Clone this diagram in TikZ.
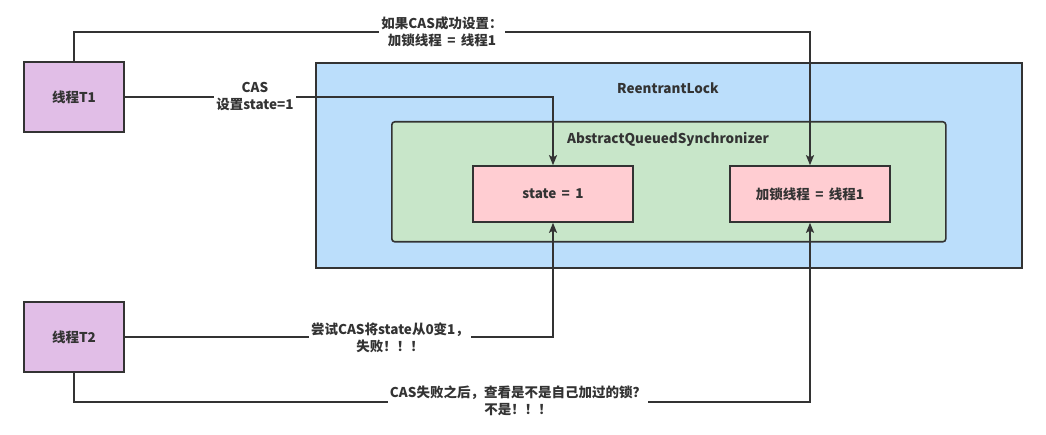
\documentclass[tikz,border=0pt]{standalone}
\usepackage{fontspec}
\setmainfont{Noto Sans CJK SC}
\usetikzlibrary{arrows.meta}
\definecolor{linec}{HTML}{333333}
\definecolor{thr}{HTML}{E1BEE7}
\definecolor{lockc}{HTML}{BBDEFB}
\definecolor{aqsc}{HTML}{C8E6C9}
\definecolor{fieldc}{HTML}{FFCDD2}
\tikzset{
  base/.style={draw=linec, line width=1.6pt, inner sep=0pt, text=linec, font=\fontsize{13.5}{17}\selectfont\bfseries},
  thread/.style={base, fill=thr, minimum width=100pt, minimum height=70pt},
  field/.style={base, fill=fieldc, minimum width=160pt, minimum height=56pt},
  conn/.style={draw=linec, line width=1.6pt, -{Stealth[length=10pt,width=8pt,inset=2pt]}},
  lbl/.style={fill=white, text=linec, align=center, inner sep=2pt, font=\fontsize{13.5}{17}\selectfont\bfseries},
  title/.style={text=linec, font=\fontsize{13.5}{17}\selectfont\bfseries}
}
\begin{document}
\begin{tikzpicture}[x=1pt,y=-1pt]
\useasboundingbox (0,0) rectangle (1046,435);
% containers
\node[base, fill=lockc, minimum width=706pt, minimum height=205pt, anchor=north west] (lock) at (315,62) {};
\node[title] (locklbl) at (668,88) {ReentrantLock};
\node[base, fill=aqsc, rounded corners=3pt, minimum width=554pt, minimum height=120pt, anchor=north west] (aqs) at (391,121) {};
\node[title] (aqslbl) at (668,139) {AbstractQueuedSynchronizer};
% fields
\node[field] (state) at (553,194) {state\, =\, 1};
\node[field] (owner) at (810,194) {加锁线程\, =\, 线程1};
% threads
\node[thread] (t1) at (74,97) {线程T1};
\node[thread] (t2) at (74,337) {线程T2};
% connectors
\coordinate (c1) at (74,32);
\draw[conn] (t1.north) -- (c1) -| node[lbl, pos=0.25] (l1) {如果CAS成功设置：\\加锁线程\, =\, 线程1} (owner.north);
\coordinate (c2) at (553,97);
\draw[conn] (t1.east) -- (c2) -- (state.north);
\node[lbl] (l2) at (255,97) {CAS\\设置state=1};
\coordinate (c3) at (553,337);
\draw[conn] (t2.east) -- (c3) -- (state.south);
\node[lbl] (l3) at (390,338) {尝试CAS将state从0变1，\\失败！！！};
\coordinate (c4) at (74,402);
\coordinate (c5) at (810,402);
\draw[conn] (t2.south) -- (c4) -- (c5) -- (owner.south);
\node[lbl] (l4) at (518,401) {CAS失败之后，查看是不是自己加过的锁？\\不是！！！};
\end{tikzpicture}
\end{document}
